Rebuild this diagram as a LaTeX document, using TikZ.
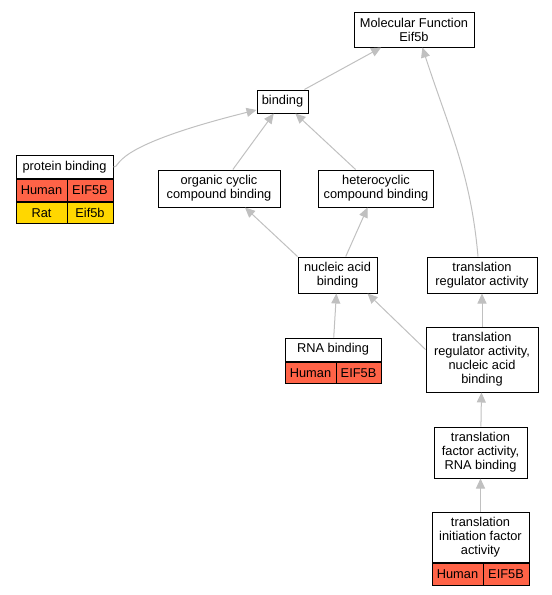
\documentclass[tikz,border=0pt]{standalone}
\usepackage{fontspec}
\setmainfont{Liberation Sans}
\usetikzlibrary{arrows.meta}
\definecolor{human}{HTML}{FF6347}
\definecolor{rat}{HTML}{FFD700}
\definecolor{edgegray}{HTML}{C0C0C0}

\begin{document}
\begin{tikzpicture}[x=1pt,y=-1pt]
		\useasboundingbox (0,0) rectangle (552,595);
		\begin{scope}[every node/.style={draw,line width=1pt,inner sep=0pt,align=center,
		              font=\fontsize{12.8}{14}\selectfont}]
		    % term boxes
		    \node[minimum width=120,minimum height=35] (mf) at (414,29.5) {Molecular Function\\Eif5b};
		    \node[minimum width=51,minimum height=23] (bind) at (282.5,101.5) {binding};
		    \node[minimum width=97,minimum height=23] (pb) at (64.5,167) {protein binding};
		    \node[minimum width=122,minimum height=37] (occ) at (219,188.5) {organic cyclic\\compound binding};
		    \node[minimum width=115,minimum height=37] (hcc) at (376,188.5) {heterocyclic\\compound binding};
		    \node[minimum width=79,minimum height=36] (nab) at (337.5,275) {nucleic acid\\binding};
		    \node[minimum width=110,minimum height=36] (tra) at (482,275) {translation\\regulator activity};
		    \node[minimum width=96,minimum height=23] (rnab) at (333,349.5) {RNA binding};
		    \node[minimum width=112,minimum height=65] (trn) at (482,359.5) {translation\\regulator activity,\\nucleic acid\\binding};
		    \node[minimum width=93,minimum height=51] (tfr) at (480.5,452.5) {translation\\factor activity,\\RNA binding};
		    \node[minimum width=97,minimum height=50] (tifa) at (480.5,537.5) {translation\\initiation factor\\activity};
		    % species rows
		    \node[fill=human,minimum width=51,minimum height=21.5,anchor=north west] (pbh) at (pb.south west) {Human};
		    \node[fill=human,minimum width=46,minimum height=21.5,anchor=north east] (pbe) at (pb.south east) {EIF5B};
		    \node[fill=rat,minimum width=51,minimum height=21.5,anchor=north west] (pbr) at (pbh.south west) {Rat};
		    \node[fill=rat,minimum width=46,minimum height=21.5,anchor=north east] (pbre) at (pbe.south east) {Eif5b};
		    \node[fill=human,minimum width=51,minimum height=21.5,anchor=north west] (rnah) at (rnab.south west) {Human};
		    \node[fill=human,minimum width=45,minimum height=21.5,anchor=north east] (rnae) at (rnab.south east) {EIF5B};
		    \node[fill=human,minimum width=51,minimum height=21.5,anchor=north west] (tifah) at (tifa.south west) {Human};
		    \node[fill=human,minimum width=46,minimum height=21.5,anchor=north east] (tifae) at (tifa.south east) {EIF5B};
		\end{scope}

		\begin{scope}[>={Triangle[length=10pt,width=9pt]},
		              every edge/.style={draw=edgegray,line width=1pt}]
		    \path (bind) edge[->] (mf);
		    \path ([xshift=-4pt]tra.north) edge[->,out=95,in=-72] (mf.-65);
		    \path (pb.east) edge[->,out=0,in=194,out looseness=0.15,in looseness=2.6] (bind.198);
		    \path (occ) edge[->] (bind);
		    \path (hcc) edge[->] (bind);
		    \path (nab.north west) edge[->] ([xshift=26pt]occ.south);
		    \path (nab) edge[->] (hcc);
		    \path (rnab) edge[->] (nab);
		    \path ([yshift=10pt]trn.west) edge[->] ([xshift=-10pt]nab.south east);
		    \path (trn) edge[->] (tra);
		    \path (tfr) edge[->] (trn);
		    \path (tifa) edge[->] (tfr);
		\end{scope}
\end{tikzpicture}
\end{document}
